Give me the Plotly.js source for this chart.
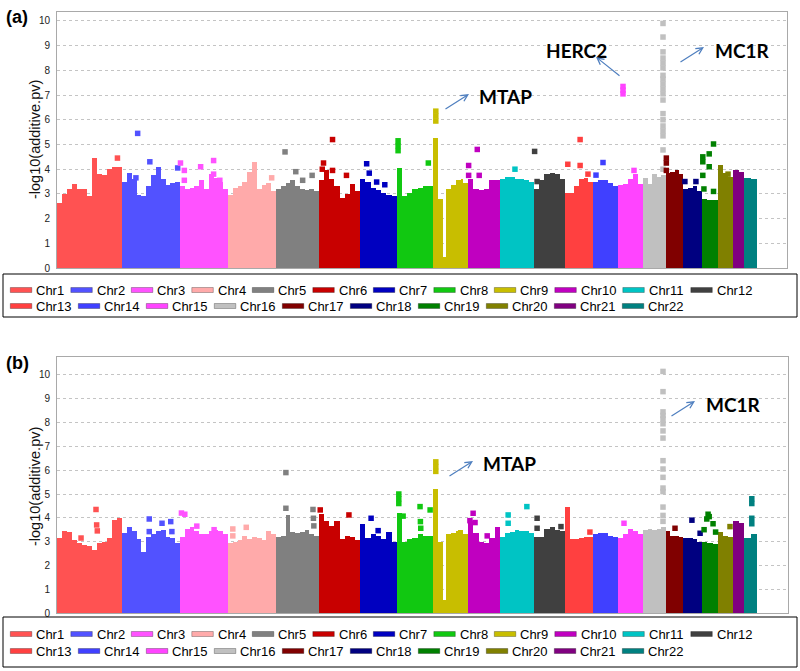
<!DOCTYPE html>
<html>
<head>
<meta charset="utf-8">
<script src="https://cdn.plot.ly/plotly-3.0.1.min.js"></script>
<style>html,body{margin:0;padding:0;background:#fff;}#chart{width:800px;height:671px;}</style>
</head>
<body>
<div id="chart"></div>
<script>
// ---------------- DATA ----------------
const chroms = ['Chr1','Chr2','Chr3','Chr4','Chr5','Chr6','Chr7','Chr8','Chr9','Chr10','Chr11',
  'Chr12','Chr13','Chr14','Chr15','Chr16','Chr17','Chr18','Chr19','Chr20','Chr21','Chr22'];
// relative chromosome widths on the genome axis (SNP-index units)
const chrLen = [65,58,48,48,43,41,37,36,35,32,34,31,28,25,25,23,17,19,16,15,11,13];

// Panel (a): upper envelope of the dense point mass, in equal bins along each chromosome
const envA = [
  [2.65,3.0,3.2,3.4,3.2,3.2,2.9,4.45,3.8,3.75,4.0,4.1,4.1],
  [3.5,3.85,3.6,2.95,2.9,3.3,3.75,4.1,3.6,3.35,3.45,3.5],
  [3.3,3.2,3.25,3.3,3.55,3.2,3.8,3.65,3.5,3.2],
  [2.95,3.25,3.3,3.5,3.9,4.3,3.2,3.35,3.45,3.1],
  [3.2,3.3,3.45,3.55,3.3,3.2,3.15,3.2,3.1],
  [3.55,3.95,3.6,3.3,2.85,3.0,3.4,3.1],
  [3.6,3.5,3.25,3.15,3.05,2.95,2.9],
  [4.05,2.9,3.05,3.2,3.25,3.3,3.3],
  [5.25,5.25,2.8,2.8,0.45,3.2,3.2,3.35,3.35,3.55,3.55,3.6,3.45,3.45],
  [3.6,3.2,3.15,3.2,3.55,3.55],
  [3.6,3.7,3.7,3.6,3.6,3.55,3.5],
  [3.2,3.55,3.8,3.85,3.8,3.6],
  [3.05,3.05,3.3,3.6,3.65,3.5],
  [3.5,3.55,3.55,3.45,3.3],
  [3.35,3.4,3.6,3.8,3.4],
  [3.65,3.4,3.8,3.7,3.75],
  [3.85,3.9,3.95,3.8],
  [3.2,3.25,3.3,3.1],
  [2.8,2.75,2.75],
  [4.15,3.85,3.7],
  [3.95,3.9],
  [3.65,3.6]
];
// Panel (a): isolated points above the mass (chromosome number, relative position, -log10 p)
const outA_chr = [1, 2,2,2,2, 3,3,3,3,3,3,3, 4, 5,5,5,5, 6,6,6,6,6, 7,7,7,7, 8,8,8,8, 9,9,9,
  10,10,10,10, 11, 12,12, 13,13,13,13, 14,14, 15,15,15,15,
  16,16,16,16,16,16,16,16,16,16,16,16,16,16,16,16,16,16,16,
  17,17,17, 18,18, 19,19,19,19,19,19,19,19, 20];
const outA_pos = [0.93, 0.27,0.48,0.96,0.24, 0.01,0.09,0.09,0.43,0.7,0.7,0.83, 0.91, 0.21,0.46,0.62,0.84,
  0.33,0.11,0.08,0.33,0.67, 0.18,0.25,0.45,0.67, 0.03,0.03,0.03,0.87, 0.08,0.08,0.08,
  0.29,0.02,0.35,0.02, 0.44, 0.02,0.1, 0.1,0.54,0.54,0.82, 0.4,0.12, 0.2,0.2,0.2,0.64,
  0.87,0.87,0.87,0.87,0.87,0.87,0.87,0.87,0.87,0.87,0.87,0.87,0.87,0.87,0.87,0.87,0.87,0.87,0.87,
  0.02,0.02,0.02, 0.1,0.68, 0.05,0.05,0.05,0.12,0.45,0.45,0.72,0.72, 0.67];
const outA_val = [4.45, 5.45,4.3,4.05,3.65, 4.25,3.95,3.55,4.1,4.35,3.8,3.55, 3.65, 4.7,3.9,3.55,3.75,
  5.2,4.25,4.0,3.95,3.75, 4.22,3.84,3.48,3.37, 5.15,4.95,4.75,4.25, 6.35,6.15,5.95,
  4.8,4.15,3.75,3.75, 4.0, 4.72,3.5, 4.2,5.2,4.15,3.8, 4.27,3.76, 7.35,7.2,7.05,3.95,
  9.9,9.35,8.75,8.5,8.3,8.1,7.8,7.65,7.45,7.25,7.05,6.8,6.25,6.0,5.75,5.55,5.35,4.78,4.0,
  4.45,4.25,3.95, 3.5,3.5, 4.5,4.3,3.75,3.2,4.62,4.1,5.02,3.1, 3.8];

// Panel (b)
const envB = [
  [3.15,3.45,3.4,3.05,2.95,2.85,2.8,2.65,2.95,3.0,3.15,3.9,4.0],
  [3.35,3.6,3.45,3.1,2.55,3.2,3.3,3.45,3.5,3.2,3.15,2.95],
  [3.2,3.55,3.6,3.45,3.3,3.3,3.45,3.5,3.45,3.3],
  [2.95,3.0,3.05,3.25,3.1,3.2,3.15,3.05,3.45,3.3],
  [3.2,3.25,4.1,3.4,3.35,3.4,3.5,3.3,3.25],
  [4.15,3.85,3.65,3.85,3.1,3.25,3.2,3.05],
  [3.75,3.15,3.3,3.25,3.1,3.4,3.0],
  [4.2,3.0,3.1,3.15,3.3,3.25,3.25],
  [5.2,5.2,3.0,3.0,0.55,3.3,3.3,3.35,3.35,3.45,3.5,3.5,3.3,3.3],
  [3.85,3.35,3.0,2.95,3.15,3.6],
  [3.2,3.35,3.4,3.5,3.45,3.45,3.35],
  [3.2,3.2,3.55,3.6,3.5,3.45],
  [4.45,3.1,3.1,3.15,3.2,3.2],
  [3.3,3.35,3.35,3.25,3.2],
  [3.15,3.3,3.55,3.45,3.3],
  [3.5,3.55,3.5,3.55,3.6],
  [3.45,3.25,3.25,3.2],
  [3.15,3.15,3.1,3.0],
  [3.0,2.95,2.9],
  [3.4,3.25,3.2],
  [3.85,3.8],
  [3.15,3.3]
];
const outB_chr = [1,1,1,1, 2,2,2,2,2, 3,3,3,3, 4,4,4, 5,5,5,5,5, 6,6, 7,7, 8,8,8,8,8,8,8,8, 9,9,9,
  10,10,10,10, 11,11,11, 12,12,12, 13, 15,
  16,16,16,16,16,16,16,16,16,16,16,16,16,16,16,16,
  17, 18,18, 19,19,19,19,19,19, 20, 22,22,22,22];
const outB_pos = [0.6,0.61,0.62,0.37, 0.47,0.47,0.69,0.84,0.86, 0.03,0.1,0.35,0.71, 0.1,0.1,0.38,
  0.23,0.23,0.86,0.87,0.88, 0.03,0.73, 0.3,0.49, 0.05,0.05,0.05,0.17,0.64,0.65,0.66,0.92, 0.08,0.08,0.08,
  0.16,0.06,0.22,0.6, 0.24,0.24,0.79, 0.1,0.1,0.87, 0.89, 0.24,
  0.87,0.87,0.87,0.87,0.87,0.87,0.87,0.87,0.87,0.87,0.87,0.87,0.87,0.87,0.87,0.87,
  0.53, 0.47,0.9, 0.38,0.45,0.3,0.69,0.13,0.85, 0.8, 0.6,0.6,0.6,0.6];
const outB_val = [4.35,3.7,3.45,3.15, 3.95,3.42,3.77,3.84,3.42, 4.2,4.15,3.65,3.5, 3.53,3.24,3.6,
  5.9,4.4,4.35,3.98,3.66, 4.33,4.12, 3.98,3.46, 5.0,4.8,4.6,4.07,4.47,3.84,3.56,4.33, 6.35,6.15,5.95,
  4.19,3.88,3.8,3.24, 4.12,3.77,4.47, 3.98,3.56,3.63, 3.4, 3.77,
  10.15,9.3,8.45,8.3,8.15,7.95,7.65,7.35,6.4,6.05,5.7,5.25,5.1,4.45,4.1,3.85,
  3.56, 3.9,3.35, 4.15,4.05,3.95,3.75,3.5,3.4, 3.63, 4.8,4.6,3.98,3.75];

const genesA = ['MTAP','HERC2','MC1R'];
const genesB = ['MTAP','MC1R'];
const yTicks = [0,1,2,3,4,5,6,7,8,9,10];
const yTitle = '-log10(additive.pv)';

// ---------------- STYLE ----------------
const chrColors = ['#ff5252','#5252ff','#ff52ff','#ffaaaa','#808080','#c80000','#0000c0','#11c811',
  '#c8be00','#c000c0','#00c4c4','#404040','#ff4040','#4040ff','#ff44ff','#c0c0c0','#800000',
  '#000080','#008000','#808000','#800080','#008080'];
const W = 800, H = 671;
const fx = p => p / W;
const fy = p => 1 - p / H;

const panels = [
  {left:57, right:787, top:12, bottom:268, ymax:10.364, env:envA,
   oc:outA_chr, op:outA_pos, ov:outA_val, tag:'(a)', tagY:17, titleY:140,
   legTop:274, legBot:317, row1:290, row2:306,
   genes:genesA,
   geneText:[[506,96],[576,50],[742,50]],
   arrows:[[469,94,444,110],[596,57,621,77],[704,47,679,63]]},
  {left:57, right:788, top:357, bottom:613, ymax:10.756, env:envB,
   oc:outB_chr, op:outB_pos, ov:outB_val, tag:'(b)', tagY:363, titleY:487,
   legTop:617, legBot:667, row1:634, row2:651,
   genes:genesB,
   geneText:[[510,463],[733,404]],
   arrows:[[473,461,448,477],[695,401,670,417]]}
];

const chrStart = [];
{ let s = 0; for (const L of chrLen) { chrStart.push(s); s += L; } }

const traces = [];
const shapes = [];
const annotations = [];
const layout = {
  width: W, height: H, margin:{l:0,r:0,t:0,b:0}, paper_bgcolor:'#fff', plot_bgcolor:'#fff',
  showlegend:false, barmode:'overlay', bargap:0,
  font:{family:'Liberation Sans, Arial, sans-serif', color:'#000'}
};

panels.forEach((P, pi) => {
  const sfx = pi === 0 ? '' : '2';
  layout['xaxis'+sfx] = {
    domain:[fx(P.left), fx(P.right)], anchor:'y'+sfx, range:[0, P.right-P.left],
    showticklabels:false, ticks:'', showgrid:false, zeroline:false,
    showline:true, mirror:true, linecolor:'#a9a9a9', linewidth:1, fixedrange:true
  };
  layout['yaxis'+sfx] = {
    domain:[fy(P.bottom), fy(P.top)], anchor:'x'+sfx, range:[0, P.ymax],
    tickvals:yTicks, ticktext:yTicks.map(String), ticks:'', ticklabelstandoff:4,
    tickfont:{size:10, color:'#222', family:'Liberation Sans, Arial, sans-serif'},
    showgrid:true, gridcolor:'#c4c4c4', griddash:'dot', gridwidth:1,
    zeroline:false, showline:true, mirror:true, linecolor:'#a9a9a9', linewidth:1, fixedrange:true
  };
  // envelopes as bars
  P.env.forEach((bins, ci) => {
    const bw = chrLen[ci] / bins.length;
    traces.push({
      type:'bar', xaxis:'x'+sfx, yaxis:'y'+sfx, name:chroms[ci],
      x: bins.map((_, k) => chrStart[ci] + bw*(k+0.5)), y: bins,
      width: bins.map(() => bw), marker:{color:chrColors[ci], line:{width:0}},
      hoverinfo:'skip'
    });
  });
  // isolated points
  for (let ci = 0; ci < chroms.length; ci++) {
    const xs = [], ys = [];
    P.oc.forEach((c, k) => { if (c === ci+1) { xs.push(chrStart[ci] + P.op[k]*chrLen[ci]); ys.push(P.ov[k]); } });
    if (xs.length) traces.push({
      type:'scatter', mode:'markers', xaxis:'x'+sfx, yaxis:'y'+sfx, name:chroms[ci],
      x:xs, y:ys, marker:{symbol:'square', size:5.5, color:chrColors[ci], line:{width:0}},
      hoverinfo:'skip', cliponaxis:false
    });
  }
  // panel tag
  annotations.push({xref:'paper', yref:'paper', x:fx(17), y:fy(P.tagY), text:P.tag, showarrow:false,
    xanchor:'center', yanchor:'middle', font:{size:18, weight:700, family:'Liberation Sans, Arial, sans-serif'}});
  // y title
  annotations.push({xref:'paper', yref:'paper', x:fx(35), y:fy(P.titleY), text:yTitle, textangle:-90,
    showarrow:false, xanchor:'center', yanchor:'middle', font:{size:14.5, color:'#111'}});
  // gene labels + arrows
  P.genes.forEach((g, k) => {
    annotations.push({xref:'paper', yref:'paper', x:fx(P.geneText[k][0]), y:fy(P.geneText[k][1]), text:g,
      showarrow:false, xanchor:'center', yanchor:'middle',
      font:{size:19, weight:700, family:'Lato, Liberation Sans, sans-serif', color:'#000'}});
    const a = P.arrows[k];
    annotations.push({xref:'paper', yref:'paper', x:fx(a[0]), y:fy(a[1]), ax:a[2]-a[0], ay:a[3]-a[1],
      text:'', showarrow:true, arrowhead:5, arrowsize:1.1, arrowwidth:1.2, arrowcolor:'#4f7fbf',
      standoff:0, startstandoff:0});
  });
  // legend box
  shapes.push({type:'rect', xref:'paper', yref:'paper', x0:fx(3), x1:fx(797), y0:fy(P.legBot), y1:fy(P.legTop),
    line:{color:'#000', width:1}, fillcolor:'rgba(0,0,0,0)'});
  let xs = 10.3, row = 0;
  chroms.forEach((name, ci) => {
    if (ci === 12) { xs = 10.3; row = 1; }
    const cy = row === 0 ? P.row1 : P.row2;
    shapes.push({type:'rect', xref:'paper', yref:'paper', x0:fx(xs), x1:fx(xs+21.5), y0:fy(cy+2.5), y1:fy(cy-2.5),
      line:{color:'rgba(0,0,0,0.35)', width:0.8}, fillcolor:chrColors[ci]});
    annotations.push({xref:'paper', yref:'paper', x:fx(xs+24), y:fy(cy), text:name, showarrow:false,
      xanchor:'left', yanchor:'middle',
      font:{size:13, family:'Liberation Sans, Arial, sans-serif', color:'#000'}});
    xs += name.length === 4 ? 60.5 : 68;
  });
});

layout.shapes = shapes;
layout.annotations = annotations;
Plotly.newPlot('chart', traces, layout, {displayModeBar:false, staticPlot:true});
</script>
</body>
</html>
